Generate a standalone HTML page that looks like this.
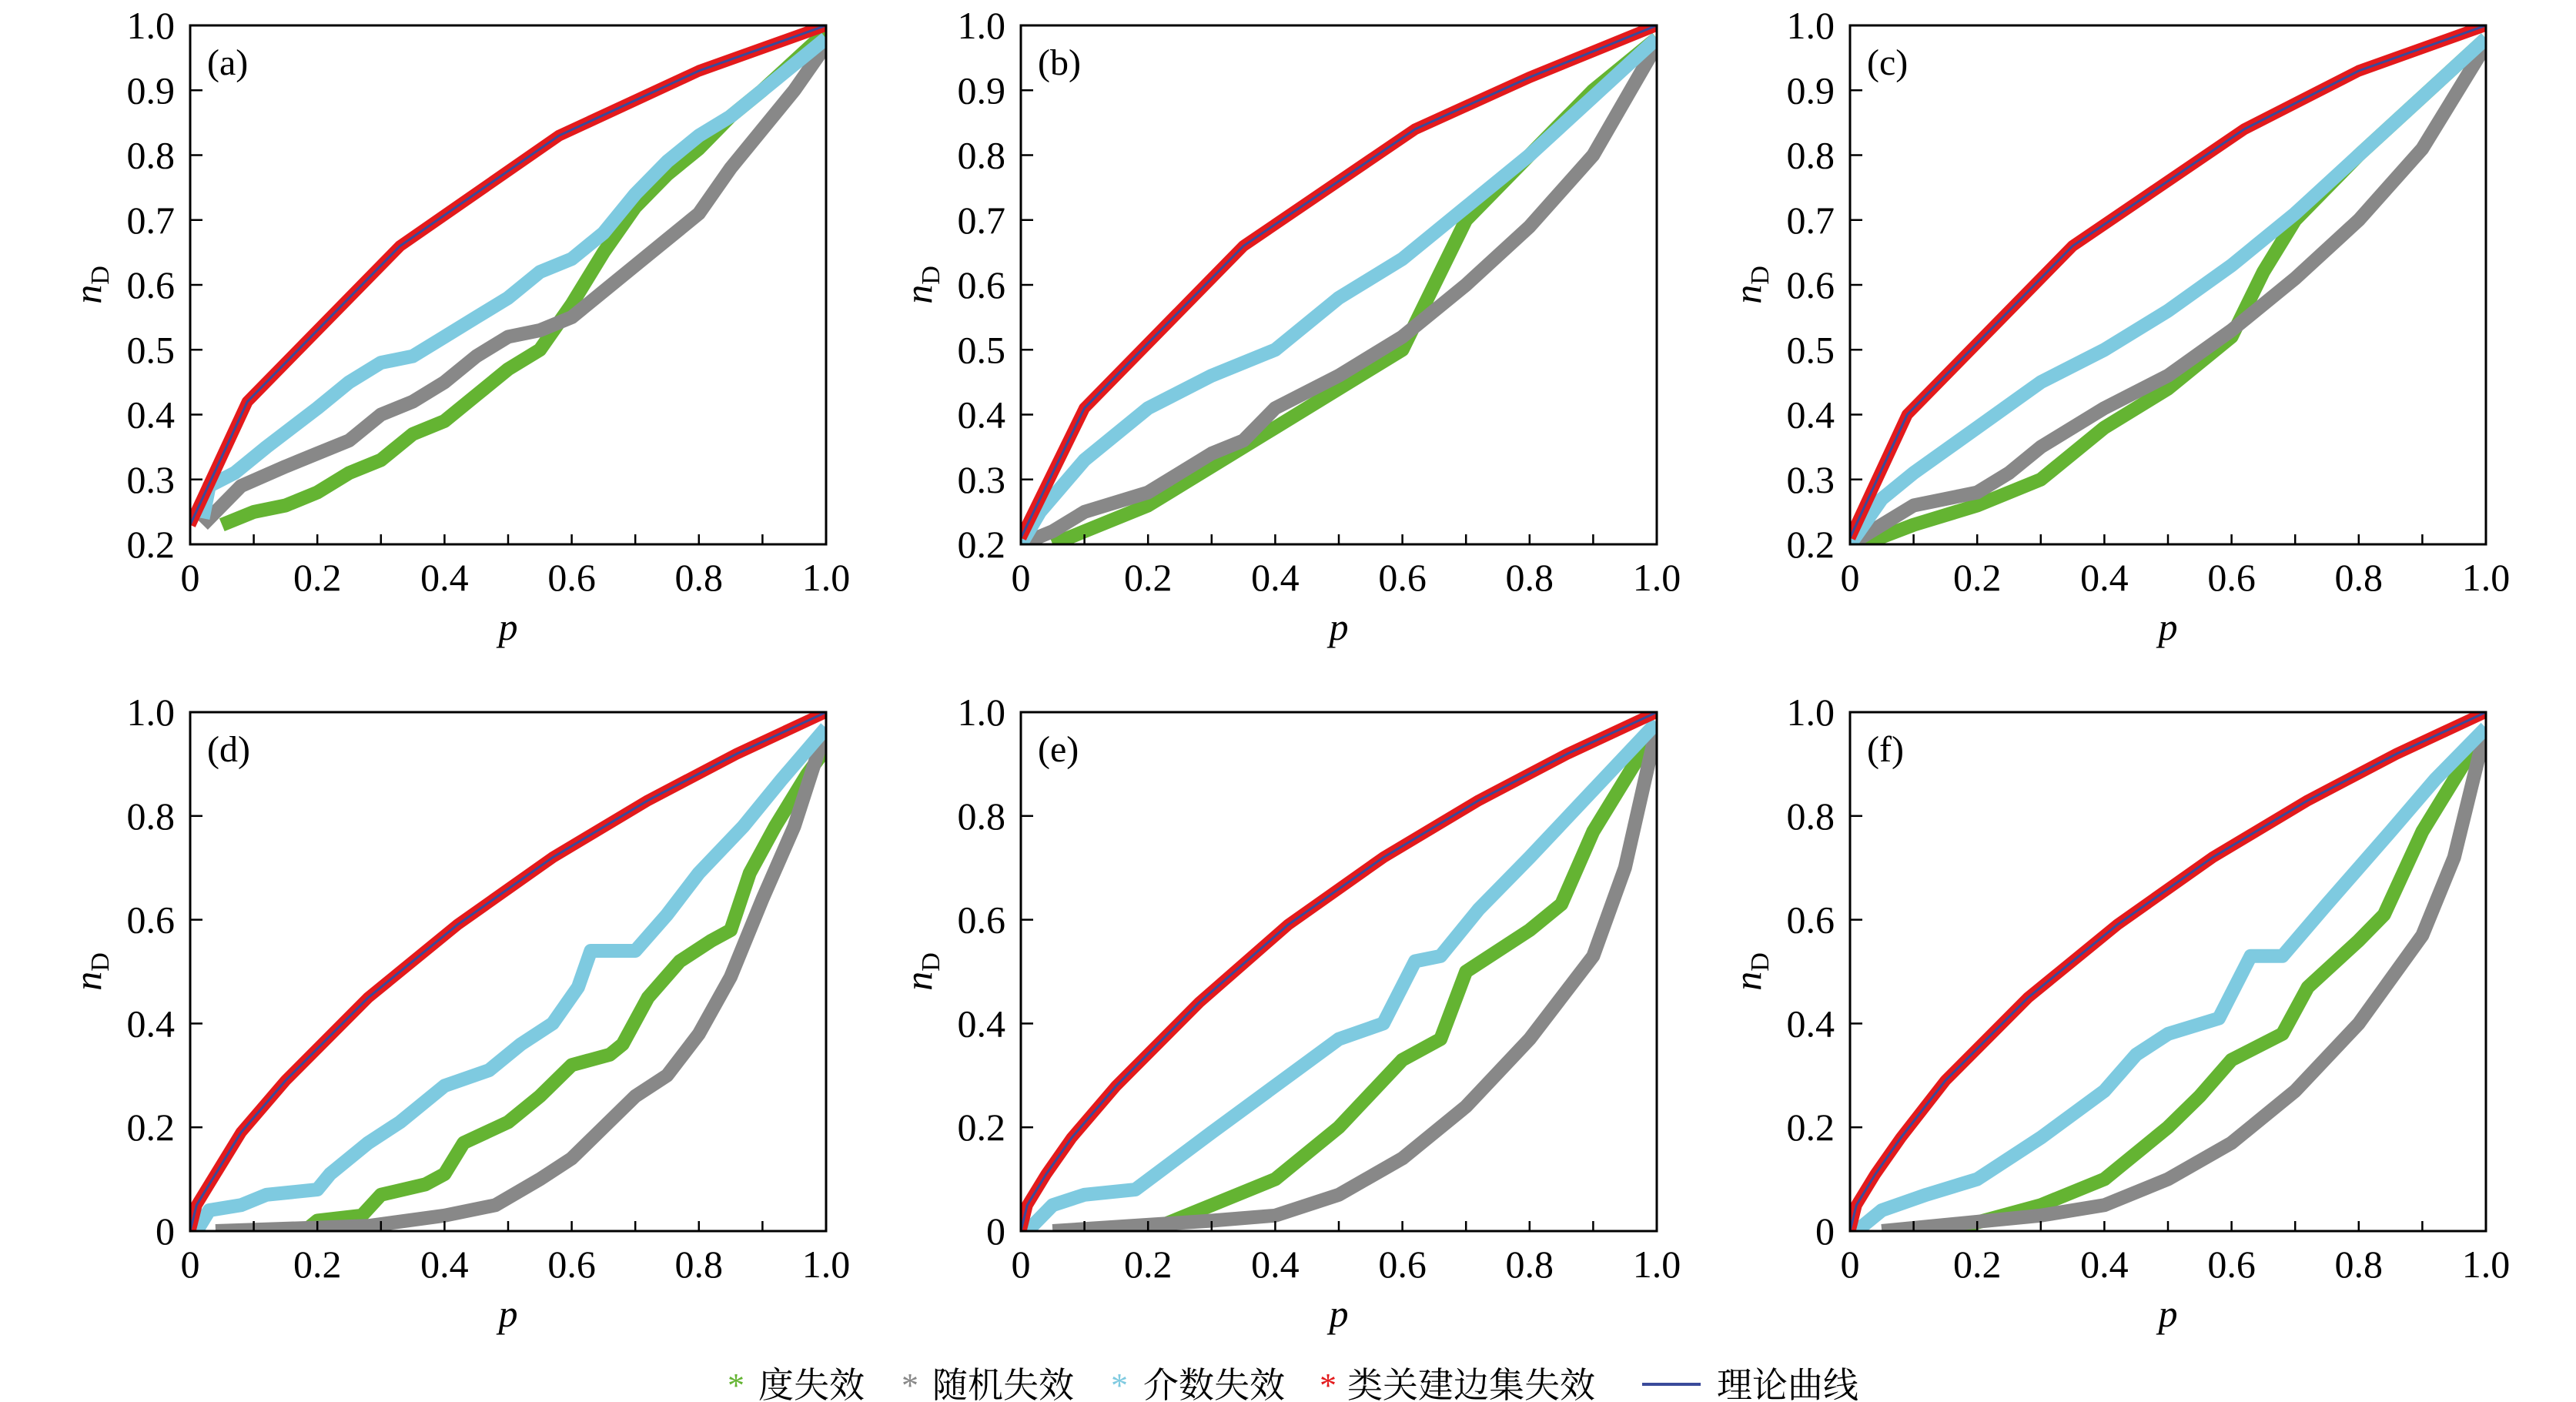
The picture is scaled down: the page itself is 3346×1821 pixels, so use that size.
<!DOCTYPE html>
<html><head><meta charset="utf-8"><style>
html,body{margin:0;padding:0;background:#fff;overflow:hidden;}
svg{display:block;}
text{font-family:"Liberation Serif","Noto Serif CJK SC",serif;}
</style></head><body>
<svg id="fig" width="3346" height="1821" viewBox="0 0 3346 1821" xmlns="http://www.w3.org/2000/svg" style="position:absolute;left:0;top:0"></svg>
<script>
const panelLabels=["(a)","(b)","(c)","(d)","(e)","(f)"];
const seriesNames=["green","gray","cyan","red"];
const xTicks=[0,0.2,0.4,0.6,0.8,1.0];
const xTickLabels=["0","0.2","0.4","0.6","0.8","1.0"];
const yTicksTop=[0.2,0.3,0.4,0.5,0.6,0.7,0.8,0.9,1.0];
const yTickLabelsTop=["0.2","0.3","0.4","0.5","0.6","0.7","0.8","0.9","1.0"];
const yTicksBot=[0,0.2,0.4,0.6,0.8,1.0];
const yTickLabelsBot=["0","0.2","0.4","0.6","0.8","1.0"];
const redA=[[0,0.23],[0.09,0.42],[0.33,0.66],[0.58,0.83],[0.8,0.93],[1,1.0]];
const cyanA=[[0.02,0.24],[0.03,0.29],[0.07,0.31],[0.12,0.35],[0.2,0.41],[0.25,0.45],[0.3,0.48],[0.35,0.49],[0.4,0.52],[0.45,0.55],[0.5,0.58],[0.55,0.62],[0.6,0.64],[0.65,0.68],[0.7,0.74],[0.75,0.79],[0.8,0.83],[0.85,0.86],[0.9,0.9],[1,0.98]];
const grayA=[[0.02,0.23],[0.08,0.29],[0.15,0.32],[0.2,0.34],[0.25,0.36],[0.3,0.4],[0.35,0.42],[0.4,0.45],[0.45,0.49],[0.5,0.52],[0.55,0.53],[0.6,0.55],[0.65,0.59],[0.7,0.63],[0.75,0.67],[0.8,0.71],[0.85,0.78],[0.9,0.84],[0.95,0.9],[1,0.97]];
const greenA=[[0.05,0.23],[0.1,0.25],[0.15,0.26],[0.2,0.28],[0.25,0.31],[0.3,0.33],[0.35,0.37],[0.4,0.39],[0.45,0.43],[0.5,0.47],[0.55,0.5],[0.6,0.57],[0.65,0.65],[0.7,0.72],[0.75,0.77],[0.8,0.81],[0.85,0.86],[0.9,0.9],[1,0.99]];
const redB=[[0,0.21],[0.1,0.41],[0.35,0.66],[0.62,0.84],[0.8,0.92],[1,1.0]];
const cyanB=[[0,0.2],[0.03,0.25],[0.1,0.33],[0.2,0.41],[0.3,0.46],[0.4,0.5],[0.5,0.58],[0.6,0.64],[0.7,0.72],[0.8,0.8],[0.9,0.89],[1,0.98]];
const grayB=[[0,0.2],[0.05,0.22],[0.1,0.25],[0.2,0.28],[0.3,0.34],[0.35,0.36],[0.4,0.41],[0.5,0.46],[0.6,0.52],[0.7,0.6],[0.8,0.69],[0.9,0.8],[1,0.97]];
const greenB=[[0.05,0.2],[0.1,0.22],[0.2,0.26],[0.3,0.32],[0.4,0.38],[0.5,0.44],[0.6,0.5],[0.65,0.6],[0.7,0.7],[0.8,0.8],[0.9,0.9],[1,0.98]];
const redC=[[0,0.21],[0.09,0.4],[0.35,0.66],[0.62,0.84],[0.8,0.93],[1,1.0]];
const cyanC=[[0,0.2],[0.05,0.27],[0.1,0.31],[0.2,0.38],[0.3,0.45],[0.4,0.5],[0.5,0.56],[0.6,0.63],[0.7,0.71],[0.8,0.8],[0.9,0.89],[1,0.98]];
const grayC=[[0,0.2],[0.05,0.23],[0.1,0.26],[0.2,0.28],[0.25,0.31],[0.3,0.35],[0.4,0.41],[0.5,0.46],[0.6,0.53],[0.7,0.61],[0.8,0.7],[0.9,0.81],[1,0.97]];
const greenC=[[0.02,0.2],[0.1,0.23],[0.2,0.26],[0.3,0.3],[0.4,0.38],[0.5,0.44],[0.6,0.52],[0.65,0.62],[0.7,0.7],[0.8,0.8],[0.9,0.89],[1,0.98]];
const redD=[[0,0],[0.01,0.05],[0.04,0.11],[0.08,0.19],[0.15,0.29],[0.28,0.45],[0.42,0.59],[0.57,0.72],[0.72,0.83],[0.86,0.92],[1,1.0]];
const cyanD=[[0.01,0],[0.03,0.04],[0.08,0.05],[0.12,0.07],[0.2,0.08],[0.22,0.11],[0.28,0.17],[0.33,0.21],[0.4,0.28],[0.47,0.31],[0.52,0.36],[0.57,0.4],[0.61,0.47],[0.63,0.54],[0.7,0.54],[0.75,0.61],[0.8,0.69],[0.87,0.78],[0.93,0.87],[1,0.97]];
const greenD=[[0.18,0],[0.2,0.02],[0.27,0.03],[0.3,0.07],[0.37,0.09],[0.4,0.11],[0.43,0.17],[0.5,0.21],[0.55,0.26],[0.6,0.32],[0.66,0.34],[0.68,0.36],[0.72,0.45],[0.77,0.52],[0.82,0.56],[0.85,0.58],[0.88,0.69],[0.92,0.78],[0.97,0.88],[1,0.93]];
const grayD=[[0.04,0],[0.28,0.01],[0.4,0.03],[0.48,0.05],[0.55,0.1],[0.6,0.14],[0.65,0.2],[0.7,0.26],[0.75,0.3],[0.8,0.38],[0.85,0.49],[0.9,0.64],[0.95,0.78],[1,0.97]];
const redE=[[0,0],[0.01,0.05],[0.04,0.11],[0.08,0.18],[0.15,0.28],[0.28,0.44],[0.42,0.59],[0.57,0.72],[0.72,0.83],[0.86,0.92],[1,1.0]];
const cyanE=[[0.01,0],[0.05,0.05],[0.1,0.07],[0.18,0.08],[0.3,0.19],[0.4,0.28],[0.5,0.37],[0.57,0.4],[0.62,0.52],[0.66,0.53],[0.72,0.62],[0.8,0.72],[0.9,0.85],[1,0.98]];
const greenE=[[0.2,0],[0.3,0.05],[0.4,0.1],[0.5,0.2],[0.6,0.33],[0.66,0.37],[0.7,0.5],[0.8,0.58],[0.85,0.63],[0.9,0.77],[1,0.97]];
const grayE=[[0.05,0],[0.3,0.02],[0.4,0.03],[0.5,0.07],[0.6,0.14],[0.7,0.24],[0.8,0.37],[0.9,0.53],[0.95,0.7],[1,0.97]];
const redF=[[0,0],[0.01,0.05],[0.04,0.11],[0.08,0.18],[0.15,0.29],[0.28,0.45],[0.42,0.59],[0.57,0.72],[0.72,0.83],[0.86,0.92],[1,1.0]];
const cyanF=[[0.01,0],[0.05,0.04],[0.12,0.07],[0.2,0.1],[0.3,0.18],[0.4,0.27],[0.45,0.34],[0.5,0.38],[0.58,0.41],[0.63,0.53],[0.68,0.53],[0.75,0.63],[0.85,0.77],[0.92,0.87],[1,0.97]];
const greenF=[[0.15,0],[0.3,0.05],[0.4,0.1],[0.5,0.2],[0.55,0.26],[0.6,0.33],[0.68,0.38],[0.72,0.47],[0.8,0.56],[0.84,0.61],[0.9,0.77],[1,0.97]];
const grayF=[[0.05,0],[0.3,0.03],[0.4,0.05],[0.5,0.1],[0.6,0.17],[0.7,0.27],[0.8,0.4],[0.9,0.57],[0.95,0.72],[1,0.97]];

const panelsData=[
 [greenA,grayA,cyanA,redA],[greenB,grayB,cyanB,redB],[greenC,grayC,cyanC,redC],
 [greenD,grayD,cyanD,redD],[greenE,grayE,cyanE,redE],[greenF,grayF,cyanF,redF]];

const NS="http://www.w3.org/2000/svg";
const svg=document.getElementById('fig');
function mk(tag,attrs,parent){const e=document.createElementNS(NS,tag);for(const k in attrs)e.setAttribute(k,attrs[k]);(parent||svg).appendChild(e);return e;}
const lefts=[247,1326,2403], W=826;
const colors={green:"#64b432",gray:"#888888",cyan:"#7ecae0",red:"#e31a1c"};
const widths={green:18,gray:18,cyan:18,red:15};

for(let i=0;i<6;i++){
  const row=Math.floor(i/3), col=i%3;
  const L=lefts[col], T=row?925:33, H=row?674:674;
  const ymin=row?0:0.2, ymax=1;
  const xs=v=>L+v*W, ys=v=>T+H-(v-ymin)/(ymax-ymin)*H;
  const g=mk('g',{});
  
  
  const clipId='clip'+i;
  const cp=mk('clipPath',{id:clipId},g); mk('rect',{x:L,y:T,width:W,height:H},cp);
  const dg=mk('g',{'clip-path':'url(#'+clipId+')'},g);
  const data=panelsData[i];
  for(let s=0;s<4;s++){
    const nm=seriesNames[s];
    const pts=data[s].map(p=>xs(p[0]).toFixed(1)+','+ys(p[1]).toFixed(1)).join(' ');
    const pl=mk('polyline',{points:pts,fill:'none',stroke:colors[nm],'stroke-width':widths[nm],'stroke-linejoin':'round','stroke-linecap':'butt'},dg);
    
    
  }
  const th=mk('polyline',{points:data[3].map(p=>xs(p[0]).toFixed(1)+','+ys(p[1]).toFixed(1)).join(' '),fill:'none',stroke:'#3a4a9a','stroke-width':3},dg);
  
  
  const fr=mk('rect',{x:L,y:T,width:W,height:H,fill:'none',stroke:'#000','stroke-width':3},g);
  
  
  for(let k=1;k<10;k++){mk('line',{x1:xs(k/10),x2:xs(k/10),y1:T+H,y2:T+H-13,stroke:'#000','stroke-width':2.5},g);}
  xTicks.forEach((v,k)=>{
    const t=mk('text',{x:xs(v),y:T+H+60,'font-size':50,'text-anchor':'middle'},g);
    t.textContent=xTickLabels[k];
    
    
  });
  const yt=row?yTicksBot:yTicksTop, ytl=row?yTickLabelsBot:yTickLabelsTop;
  yt.forEach((v,k)=>{
    mk('line',{x1:L,x2:L+16,y1:ys(v),y2:ys(v),stroke:'#000','stroke-width':2.5},g);
    const t=mk('text',{x:L-20,y:ys(v)+17,'font-size':50,'text-anchor':'end'},g);
    t.textContent=ytl[k];
    
    
  });
  const xl=mk('text',{x:L+W/2,y:T+H+124,'font-size':50,'font-style':'italic','text-anchor':'middle'},g);
  xl.textContent='p';
  
  
  const yl=mk('text',{x:0,y:0,'font-size':50,'text-anchor':'middle',transform:`translate(${L-116},${T+H/2}) rotate(-90)`},g);
  yl.innerHTML='<tspan font-style="italic">n</tspan><tspan font-size="34" dy="10">D</tspan>';
  
  
  const pl=mk('text',{x:L+22,y:T+64,'font-size':48},g);
  pl.textContent=panelLabels[i];
  
  
}
</script>
<svg width="3346" height="120" style="position:absolute;left:0;top:1700px" xmlns="http://www.w3.org/2000/svg">
 <g font-family="'Liberation Serif','Noto Serif CJK SC',serif" font-size="46">
  <g><text x="945" y="114" fill="#64b432" font-size="44">*</text><text x="985" y="115">度失效</text></g>
  <g><text x="1171" y="114" fill="#888888" font-size="44">*</text><text x="1211" y="115">随机失效</text></g>
  <g><text x="1443" y="114" fill="#7ecae0" font-size="44">*</text><text x="1485" y="115">介数失效</text></g>
  <g><text x="1714" y="114" fill="#e31a1c" font-size="44">*</text><text x="1750" y="115">类关建边集失效</text></g>
  <g><line x1="2133" x2="2209" y1="98" y2="98" stroke="#3a4a9a" stroke-width="4"/><text x="2230" y="115">理论曲线</text></g>
 </g>
</svg>
</body></html>
